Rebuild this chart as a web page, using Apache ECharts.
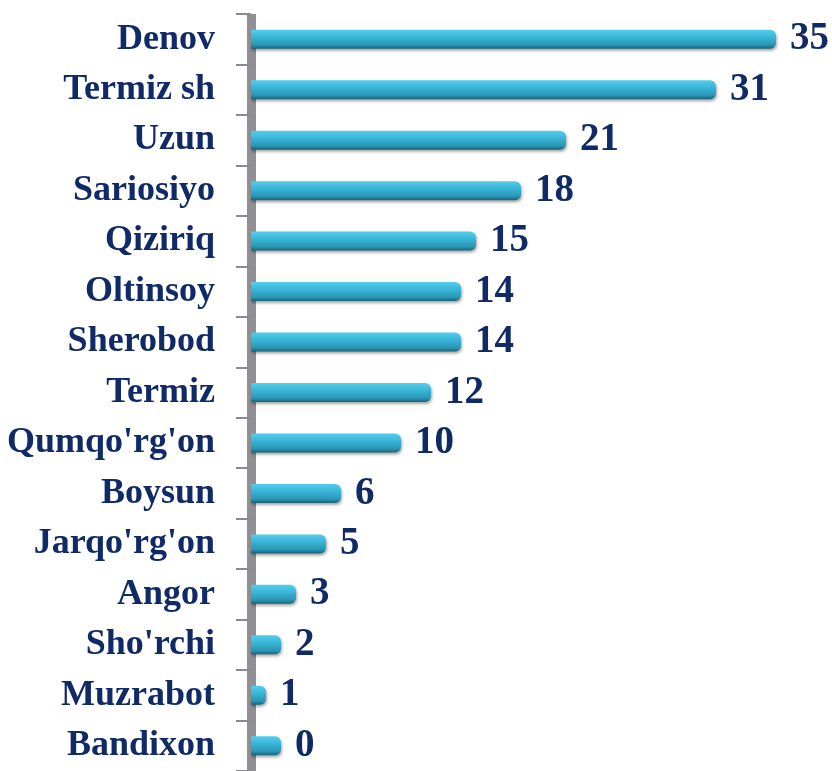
<!DOCTYPE html>
<html><head><meta charset="utf-8">
<script src="https://cdn.jsdelivr.net/npm/echarts@6/dist/echarts.min.js"></script>
<style>html,body{margin:0;padding:0;background:#fff}#c{width:832px;height:771px}</style>
</head><body><div id="c"></div>
<script>
const categories = ["Denov","Termiz sh","Uzun","Sariosiyo","Qiziriq","Oltinsoy","Sherobod","Termiz","Qumqo'rg'on","Boysun","Jarqo'rg'on","Angor","Sho'rchi","Muzrabot","Bandixon"];
const barValues = [35,31,21,18,15,14,14,12,10,6,5,3,2,1,2];
const labelTexts = ["35","31","21","18","15","14","14","12","10","6","5","3","2","1","0"];

const chart = echarts.init(document.getElementById('c'));
chart.setOption({
  animation:false,
  grid:{left:251,right:11,top:14,bottom:-3},
  xAxis:{type:'value',min:0,max:38,show:false},
  yAxis:{type:'category',inverse:true,data:categories,
    axisLine:{show:true,lineStyle:{color:'#8f8f94',width:9,cap:'butt'}},
    axisTick:{show:true,length:15,lineStyle:{color:'#8a8a8a',width:2}},
    axisLabel:{margin:36,color:'#0f2a66',fontFamily:'Liberation Serif',fontWeight:'bold',fontSize:36}
  },
  series:[{type:'bar',barWidth:19,
    data:barValues.map((v,i)=>({value:v,label:{formatter:labelTexts[i]}})),
    itemStyle:{borderRadius:[0,6,6,0],
      color:new echarts.graphic.LinearGradient(0,0,0,1,[{offset:0,color:'#55cdec'},{offset:0.35,color:'#3bb8da'},{offset:0.8,color:'#2a96b5'},{offset:1,color:'#1a6275'}]),
      shadowColor:'rgba(0,0,0,0.35)',shadowBlur:3,shadowOffsetY:2,shadowOffsetX:1},
    label:{show:true,position:'right',distance:14,color:'#0f2a66',fontFamily:'Liberation Serif',fontWeight:'bold',fontSize:39}
  }]
});
</script></body></html>
